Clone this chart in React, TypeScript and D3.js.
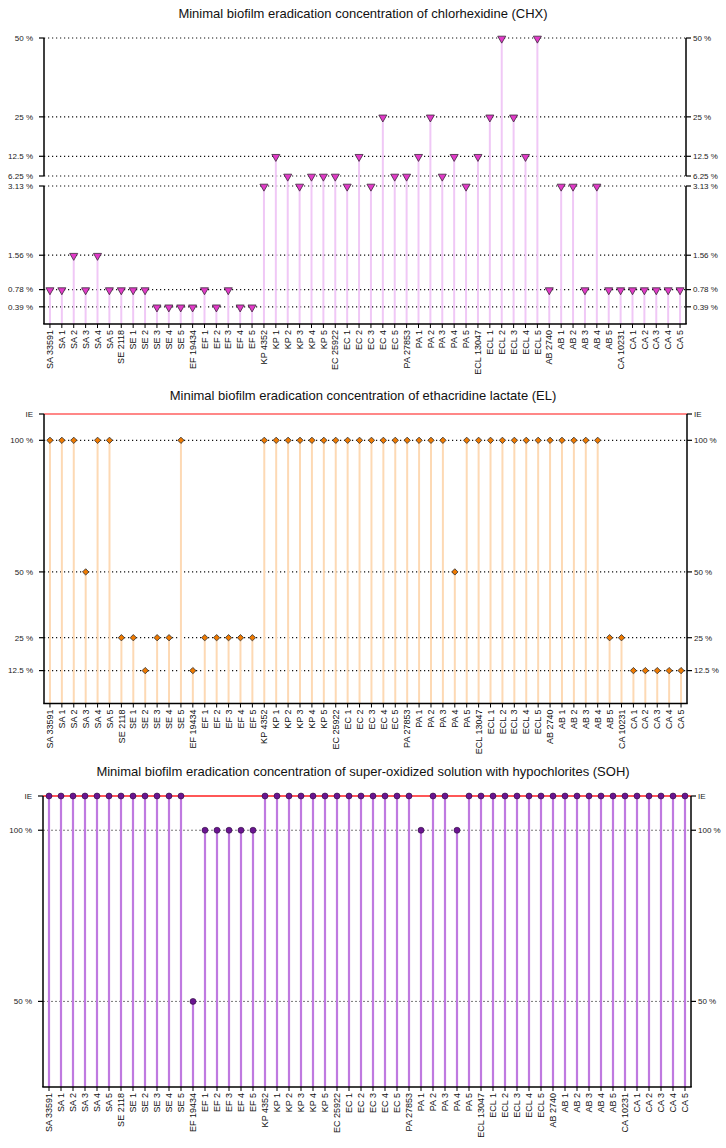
import React from "react";
import * as d3 from "d3";

const strains = [
  "SA 33591", "SA 1", "SA 2", "SA 3", "SA 4", "SA 5",
  "SE 2118", "SE 1", "SE 2", "SE 3", "SE 4", "SE 5",
  "EF 19434", "EF 1", "EF 2", "EF 3", "EF 4", "EF 5",
  "KP 4352", "KP 1", "KP 2", "KP 3", "KP 4", "KP 5",
  "EC 25922", "EC 1", "EC 2", "EC 3", "EC 4", "EC 5",
  "PA 27853", "PA 1", "PA 2", "PA 3", "PA 4", "PA 5",
  "ECL 13047", "ECL 1", "ECL 2", "ECL 3", "ECL 4", "ECL 5",
  "AB 2740", "AB 1", "AB 2", "AB 3", "AB 4", "AB 5",
  "CA 10231", "CA 1", "CA 2", "CA 3", "CA 4", "CA 5",
];

const chxValues: number[] = [
  0.78, 0.78, 1.56, 0.78, 1.56, 0.78,
  0.78, 0.78, 0.78, 0.39, 0.39, 0.39,
  0.39, 0.78, 0.39, 0.78, 0.39, 0.39,
  3.13, 12.5, 6.25, 3.13, 6.25, 6.25,
  6.25, 3.13, 12.5, 3.13, 25, 6.25,
  6.25, 12.5, 25, 6.25, 12.5, 3.13,
  12.5, 25, 50, 25, 12.5, 50,
  0.78, 3.13, 3.13, 0.78, 3.13, 0.78,
  0.78, 0.78, 0.78, 0.78, 0.78, 0.78,
];

const elValues: (number | string)[] = [
  100, 100, 100, 50, 100, 100,
  25, 25, 12.5, 25, 25, 100,
  12.5, 25, 25, 25, 25, 25,
  100, 100, 100, 100, 100, 100,
  100, 100, 100, 100, 100, 100,
  100, 100, 100, 100, 50, 100,
  100, 100, 100, 100, 100, 100,
  100, 100, 100, 100, 100, 25,
  25, 12.5, 12.5, 12.5, 12.5, 12.5,
];

const sohValues: (number | string)[] = [
  "IE", "IE", "IE", "IE", "IE", "IE",
  "IE", "IE", "IE", "IE", "IE", "IE",
  50, 100, 100, 100, 100, 100,
  "IE", "IE", "IE", "IE", "IE", "IE",
  "IE", "IE", "IE", "IE", "IE", "IE",
  "IE", 100, "IE", "IE", 100, "IE",
  "IE", "IE", "IE", "IE", "IE", "IE",
  "IE", "IE", "IE", "IE", "IE", "IE",
  "IE", "IE", "IE", "IE", "IE", "IE",
];

const chxTicks = [0.39, 0.78, 1.56, 3.13, 6.25, 12.5, 25, 50];
const elTicks: (number | string)[] = ["IE", 100, 50, 25, 12.5];
const sohTicks: (number | string)[] = ["IE", 100, 50];

const titles = [
  "Minimal biofilm eradication concentration of chlorhexidine (CHX)",
  "Minimal biofilm eradication concentration of ethacridine lactate (EL)",
  "Minimal biofilm eradication concentration of super-oxidized solution with hypochlorites (SOH)",
];

const IE_LEVEL = 110;
const FONT = "Liberation Sans, Arial, sans-serif";

const fmt = (v: number | string) => (v === "IE" ? "IE" : `${v} %`);
const num = (v: number | string) => (v === "IE" ? IE_LEVEL : (v as number));

type PanelProps = {
  title: string;
  titleY: number;
  values: (number | string)[];
  ticks: (number | string)[];
  x0: number;
  x1: number;
  y: d3.ScaleLinear<number, number>;
  axisSegments: [number, number][];
  stemColor: string;
  stemWidth: number;
  marker: "tri" | "diamond" | "circle";
  markerFill: string;
  gridStyle: { stroke: string; dash: string; width: number };
  ieColor?: string;
};

function Panel(p: PanelProps) {
  const x = d3.scaleBand<string>().domain(strains).range([p.x0, p.x1]);
  const cx = (s: string) => (x(s) as number) + x.bandwidth() / 2;
  const bottom = p.y.range()[0];
  const markerPath = (mx: number, my: number) => {
    if (p.marker === "tri") {
      const sym = d3.symbol().type(d3.symbolTriangle).size(28)();
      return <path d={sym as string} transform={`translate(${mx},${my + 0.5}) rotate(180)`} fill={p.markerFill} stroke="#3a2a3a" strokeWidth={0.8} />;
    }
    if (p.marker === "diamond") {
      const sym = d3.symbol().type(d3.symbolSquare).size(20)();
      return <path d={sym as string} transform={`translate(${mx},${my}) rotate(45)`} fill={p.markerFill} stroke="#333" strokeWidth={0.8} />;
    }
    return <circle cx={mx} cy={my} r={3} fill={p.markerFill} stroke="#2a0a3a" strokeWidth={0.6} />;
  };
  return (
    <g>
      <text x={363} y={p.titleY} textAnchor="middle" fontSize={13} fontFamily={FONT} fill="#111">
        {p.title}
      </text>
      {p.ticks.map((t) =>
        t === "IE" ? (
          <line key={"g" + t} x1={p.x0} x2={p.x1} y1={p.y(num(t))} y2={p.y(num(t))} stroke={p.ieColor} strokeWidth={1.2} />
        ) : (
          <line key={"g" + t} x1={p.x0} x2={p.x1} y1={p.y(num(t))} y2={p.y(num(t))} stroke={p.gridStyle.stroke} strokeDasharray={p.gridStyle.dash} strokeWidth={p.gridStyle.width} />
        )
      )}
      {strains.map((s, i) => (
        <line key={"s" + s} x1={cx(s)} x2={cx(s)} y1={bottom} y2={p.y(num(p.values[i]))} stroke={p.stemColor} strokeWidth={p.stemWidth} />
      ))}
      {p.ieColor &&
        p.ticks.filter((t) => t === "IE").map((t) => (
          <line key="ie2" x1={p.x0} x2={p.x1} y1={p.y(num(t))} y2={p.y(num(t))} stroke={p.ieColor} strokeWidth={1.2} />
        ))}
      {strains.map((s, i) => (
        <g key={"m" + s}>{markerPath(cx(s), p.y(num(p.values[i])))}</g>
      ))}
      {p.axisSegments.map(([a, b], k) => (
        <g key={"ax" + k}>
          <line x1={p.x0} x2={p.x0} y1={a} y2={b} stroke="#000" strokeWidth={1.5} />
          <line x1={p.x1} x2={p.x1} y1={a} y2={b} stroke="#000" strokeWidth={1.5} />
        </g>
      ))}
      <line x1={p.x0 - 0.75} x2={p.x1 + 0.75} y1={bottom} y2={bottom} stroke="#000" strokeWidth={1.5} />
      {p.ticks.map((t) => (
        <g key={"t" + t}>
          <line x1={p.x0 - 5} x2={p.x0} y1={p.y(num(t))} y2={p.y(num(t))} stroke="#000" strokeWidth={1.2} />
          <line x1={p.x1} x2={p.x1 + 5} y1={p.y(num(t))} y2={p.y(num(t))} stroke="#000" strokeWidth={1.2} />
          <text x={p.x0 - 11} y={p.y(num(t))} dy="0.35em" textAnchor="end" fontSize={8} fontFamily={FONT} fill="#222">
            {fmt(t)}
          </text>
          <text x={p.x1 + 7} y={p.y(num(t))} dy="0.35em" textAnchor="start" fontSize={8} fontFamily={FONT} fill="#222">
            {fmt(t)}
          </text>
        </g>
      ))}
      {strains.map((s) => (
        <g key={"xl" + s}>
          <line x1={cx(s)} x2={cx(s)} y1={bottom} y2={bottom + 4} stroke="#000" strokeWidth={1} />
          <text transform={`translate(${cx(s)},${bottom + 6}) rotate(-90)`} dy="0.35em" textAnchor="end" fontSize={9} fontFamily={FONT} fill="#111">
            {s}
          </text>
        </g>
      ))}
    </g>
  );
}

export default function App() {
  const yChx = d3.scaleLinear().domain([0, 3.13, 6.25, 50]).range([324, 186, 176, 38]);
  const yEl = d3.scaleLinear().domain([0, IE_LEVEL]).range([703.5, 414]);
  const ySoh = d3.scaleLinear().domain([25, IE_LEVEL]).range([1087, 796]);
  return (
    <svg width={726} height={1148} style={{ position: "absolute", left: 0, top: 0, background: "#fff" }}>
      <Panel
        title={titles[0]}
        titleY={18}
        values={chxValues}
        ticks={chxTicks}
        x0={44}
        x1={686}
        y={yChx}
        axisSegments={[[yChx(50), yChx(6.25)], [yChx(3.13), 324]]}
        stemColor="#f0c8f6"
        stemWidth={2}
        marker="tri"
        markerFill="#e23ac8"
        gridStyle={{ stroke: "#111", dash: "1.2,2.8", width: 1.2 }}
      />
      <Panel
        title={titles[1]}
        titleY={400}
        values={elValues}
        ticks={elTicks}
        x0={44}
        x1={687}
        y={yEl}
        axisSegments={[[414, 703.5]]}
        stemColor="#fdd9b4"
        stemWidth={2}
        marker="diamond"
        markerFill="#f07a00"
        gridStyle={{ stroke: "#111", dash: "1.2,2.8", width: 1.2 }}
        ieColor="#ff6060"
      />
      <Panel
        title={titles[2]}
        titleY={776}
        values={sohValues}
        ticks={sohTicks}
        x0={43}
        x1={691}
        y={ySoh}
        axisSegments={[[796, 1087]]}
        stemColor="#bf7ae0"
        stemWidth={2.2}
        marker="circle"
        markerFill="#6a1590"
        gridStyle={{ stroke: "#555", dash: "2,2", width: 0.8 }}
        ieColor="#ff2020"
      />
    </svg>
  );
}
